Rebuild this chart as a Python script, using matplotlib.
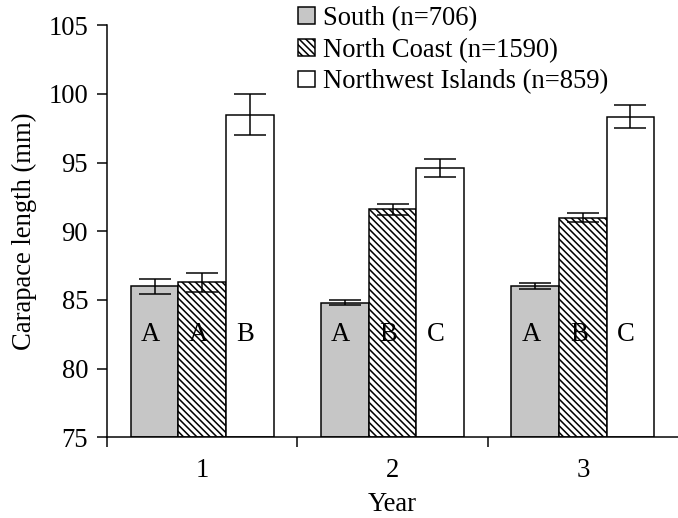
import matplotlib
matplotlib.use('Agg')
import matplotlib.pyplot as plt
import numpy as np

# ---- data ----
years = ['1', '2', '3']
series_names = ['South (n=706)', 'North Coast (n=1590)', 'Northwest Islands (n=859)']
south = [86.0, 84.8, 86.0]
south_err = [0.55, 0.18, 0.22]
north = [86.3, 91.6, 91.0]
north_err = [0.7, 0.4, 0.35]
nwi = [98.5, 94.6, 98.35]
nwi_err = [1.5, 0.65, 0.85]
letters_south = ['A', 'A', 'A']
letters_north = ['A', 'B', 'B']
letters_nwi = ['B', 'C', 'C']
yticks = [75, 80, 85, 90, 95, 100, 105]

DPI = 80
plt.rcParams['font.family'] = ['Liberation Serif', 'DejaVu Serif']
plt.rcParams['hatch.linewidth'] = 1.4
FS = 24
LW = 1.35
BS = chr(92)

fig = plt.figure(figsize=(678 / DPI, 518 / DPI), dpi=DPI)
ax = fig.add_axes([107 / 678, 1 - 437.3 / 518, 1 - 107 / 678, (437.3 - 25.3) / 518])

x = np.arange(1, len(years) + 1)
w = 0.25
vals = [south, north, nwi]
errs = [south_err, north_err, nwi_err]
letters = [letters_south, letters_north, letters_nwi]
faces = ['#c6c6c6', 'white', 'white']
hatches = [None, BS * 4, None]
offsets = [-w, 0, w]

for v, e, lt, fc, h, off, name in zip(vals, errs, letters, faces, hatches, offsets, series_names):
    ax.bar(x + off, np.array(v) - 75, bottom=75, width=w, color=fc, edgecolor='black',
           linewidth=LW, hatch=h, label=name, zorder=2)
    ax.errorbar(x + off, v, yerr=e, fmt='none', ecolor='black', elinewidth=LW,
                capsize=14, capthick=LW, zorder=3)
    for xi, l in zip(x + off, lt):
        ax.text(xi - 0.022, 82.0, l, ha='center', va='baseline', fontsize=FS, zorder=4)

ax.set_xlim(0.5, 3.5)
ax.set_ylim(75, 105)
ax.set_yticks(yticks)
ax.set_yticklabels([str(t) for t in yticks])
ax.set_xticks([0.5, 1.5, 2.5])
ax.set_xticklabels([])
ax.set_xticks(x, minor=True)
ax.set_xticklabels(years, minor=True)
ax.tick_params(axis='x', which='major', direction='out', length=9, width=LW)
ax.tick_params(axis='x', which='minor', length=0, pad=19, labelsize=FS)
ax.tick_params(axis='y', direction='out', length=9, width=LW, pad=8, labelsize=FS)

for s in ['top', 'right']:
    ax.spines[s].set_visible(False)
for s in ['left', 'bottom']:
    ax.spines[s].set_linewidth(LW)

ax.set_xlabel('Year', fontsize=FS, labelpad=8)
ax.set_ylabel('Carapace length (mm)', fontsize=FS, labelpad=10)

leg = ax.legend(loc='upper left', bbox_to_anchor=(298 / 678, 1 - 6 / 518),
                bbox_transform=fig.transFigure, frameon=False, fontsize=FS,
                handlelength=0.63, handleheight=0.6, handletextpad=0.3,
                labelspacing=0.25, borderpad=0, borderaxespad=0)

fig.savefig('out.png', dpi=DPI)
